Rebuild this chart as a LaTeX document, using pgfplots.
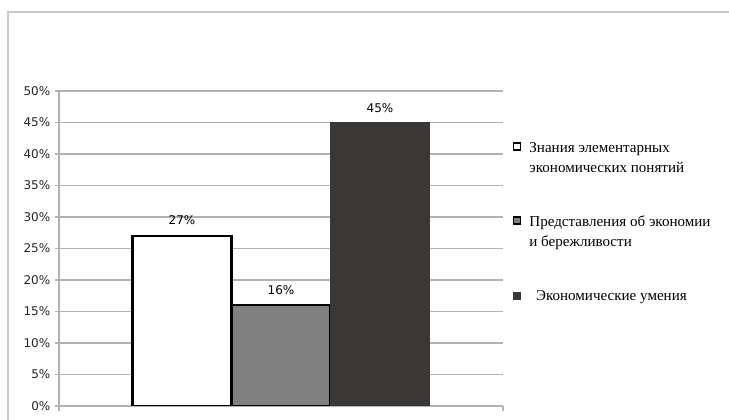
\documentclass[border=0pt]{standalone}
\usepackage{fontspec}
\setmainfont{Liberation Serif}
\newfontfamily\tickfont{DejaVu Sans}
\usepackage{pgfplots}
\pgfplotsset{compat=1.18}

\definecolor{gridgray}{RGB}{178,178,178}
\definecolor{framegray}{RGB}{200,200,200}
\definecolor{midgray}{RGB}{128,128,128}
\definecolor{darkbar}{RGB}{58,56,54}

\pgfplotsset{
	% legend square aligned with the first line of a two-line entry
	twoline square/.style={legend image code/.code={
		\draw[##1, line width=1.2pt] (0pt,6.2pt) rectangle (5.4pt,11.6pt);
	}},
	oneline square/.style={legend image code/.code={
		\draw[##1, line width=0.6pt] (0pt,-2.6pt) rectangle (5.2pt,2.6pt);
	}},
}

\begin{document}
\begin{tikzpicture}[x=0.75pt,y=0.75pt]
	% page size and outer frame (1 unit = 1 px of the reference)
	\path[use as bounding box] (0,0) rectangle (729,420);
	\draw[framegray, line width=2.2pt] (8,0) -- (8,408) -- (729,408);

	\begin{axis}[
		at={(59pt*0.75,14pt*0.75)},
		anchor=south west,
		scale only axis,
		width=333pt,
		height=236.25pt,
		ybar=0pt,
		bar width=74.25pt,
		xmin=-1, xmax=1,
		ymin=0, ymax=50,
		ytick={0,5,...,50},
		xtick=\empty,
		extra x ticks={-1,1},
		extra x tick labels={},
		extra x tick style={major tick length=4pt, tick align=outside, tick style={gridgray, line width=1pt}},
		yticklabel={\pgfmathprintnumber{\tick}\%},
		/pgf/number format/assume math mode=true,
		tick label style={font=\tickfont\fontsize{9}{10}\selectfont, text=black!85},
		ymajorgrids,
		major grid style={gridgray, line width=1.1pt},
		major tick length=3pt,
		tick align=outside,
		ytick style={gridgray, line width=1.1pt},
		axis y line*=left,
		axis x line*=bottom,
		axis line style={gridgray, line width=1.1pt},
		y axis line style={-},
		x axis line style={-},
		nodes near coords={\pgfmathprintnumber{\pgfplotspointmeta}\%},
		nodes near coords style={font=\tickfont\fontsize{9}{10}\selectfont, text=black, yshift=4pt},
		legend style={
			at={(1.012,0.855)}, anchor=north west,
			draw=none, fill=none,
			font=\fontsize{11.3}{15}\selectfont,
			nodes={align=left, anchor=west, inner xsep=6pt},
			row sep=27.25pt,
		},
		legend cell align=left,
	]
	\addplot+[ybar, fill=white, draw=black, line width=1.6pt, twoline square] coordinates {(0,27)};
	\addlegendentry{Знания элементарных\\экономических понятий}
	\addplot+[ybar, fill=midgray, draw=black, line width=1.6pt, twoline square] coordinates {(0,16)};
	\addlegendentry{Представления об экономии\\и бережливости}
	\addplot+[ybar, fill=darkbar, draw=darkbar, line width=0.5pt, oneline square] coordinates {(0,45)};
	\addlegendentry{\hspace{5pt}Экономические умения}
	\end{axis}
\end{tikzpicture}
\end{document}
